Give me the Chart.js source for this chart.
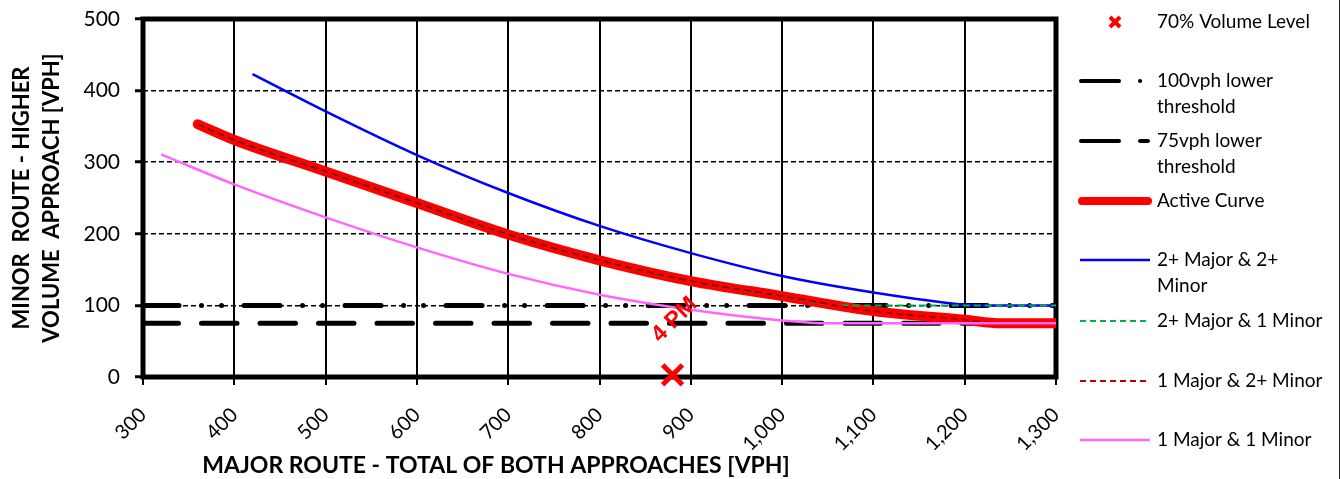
<!DOCTYPE html>
<html>
<head>
<meta charset="utf-8">
<script src="https://cdn.jsdelivr.net/npm/chart.js@4.4.0/dist/chart.umd.min.js"></script>
<style>
  html, body { margin: 0; padding: 0; background: #fff; }
</style>
</head>
<body>
<canvas id="chart" width="1341" height="479"></canvas>
<script>
// axis ticks
const xTicks = [300, 400, 500, 600, 700, 800, 900, 1000, 1100, 1200, 1300];
const yTicks = [0, 100, 200, 300, 400, 500];

// 2+ Major & 2+ Minor
const blueX = [420, 500, 600, 700, 800, 900, 1000, 1100, 1200, 1220, 1300];
const blueY = [423, 371, 310, 257, 211, 173, 141, 118, 101, 100, 100];

// 1 Major & 2+ Minor (also the active curve)
const curveX = [360, 400, 500, 600, 700, 800, 900, 1000, 1100, 1200, 1240, 1300];
const curveY = [353, 331, 287, 243, 199, 163, 134, 113, 92, 80, 75, 75];

// 2+ Major & 1 Minor
const greenX = [360, 400, 500, 600, 700, 800, 900, 1000, 1066, 1300];
const greenY = [353, 331, 287, 243, 199, 163, 134, 113, 100, 100];

// 1 Major & 1 Minor
const pinkX = [320, 400, 500, 600, 700, 800, 900, 1000, 1050, 1300];
const pinkY = [311, 269, 223, 181, 144, 115, 94, 79, 75, 75];

// lower thresholds
const thresholdX = [300, 1300];
const threshold100 = [100, 100];
const threshold75 = [75, 75];

// 70% volume level point
const pointX = [880];
const pointY = [3];
const pointLabel = '4 PM';

function pts(xs, ys) { return xs.map((x, i) => ({ x: x, y: ys[i] })); }

const FONT = 'Lato, "Open Sans", sans-serif';

const extras = {
  id: 'extras',
  beforeDatasetsDraw(chart) {
    const { ctx, chartArea: a } = chart;
    ctx.save();
    ctx.strokeStyle = '#000';
    ctx.lineWidth = 5;
    ctx.strokeRect(a.left, a.top, a.right - a.left, a.bottom - a.top);
    ctx.restore();
  },
  afterDraw(chart) {
    const ctx = chart.ctx;
    ctx.save();

    // "4 PM" label by the marker
    const p = chart.getDatasetMeta(0).data[0];
    ctx.save();
    ctx.translate(p.x + 2, p.y - 55);
    ctx.rotate(-Math.PI / 4);
    ctx.fillStyle = '#ff0000';
    ctx.font = 'bold 23px "Liberation Sans", Arial, sans-serif';
    ctx.textAlign = 'center';
    ctx.textBaseline = 'middle';
    ctx.fillText(pointLabel, 0, 0);
    ctx.restore();

    // x axis title
    ctx.fillStyle = '#000';
    ctx.font = 'bold 23px ' + FONT;
    ctx.textAlign = 'center';
    ctx.textBaseline = 'middle';
    ctx.fillText('MAJOR ROUTE - TOTAL OF BOTH APPROACHES [VPH]', 496, 466);

    // right edge line
    ctx.strokeStyle = '#222';
    ctx.lineWidth = 1;
    ctx.beginPath();
    ctx.moveTo(1339.5, 0);
    ctx.lineTo(1339.5, 479);
    ctx.stroke();

    // legend
    const items = [
      { kind: 'marker', y: 22, text: ['70% Volume Level'] },
      { kind: 't100', y: 81, text: ['100vph lower', 'threshold'] },
      { kind: 't75', y: 141, text: ['75vph lower', 'threshold'] },
      { kind: 'active', y: 201, text: ['Active Curve'] },
      { kind: 'blue', y: 260, text: ['2+ Major & 2+', 'Minor'] },
      { kind: 'green', y: 321, text: ['2+ Major & 1 Minor'] },
      { kind: 'darkred', y: 381, text: ['1 Major & 2+ Minor'] },
      { kind: 'pink', y: 440, text: ['1 Major & 1 Minor'] }
    ];
    items.forEach(it => {
      const y = it.y;
      ctx.save();
      ctx.setLineDash([]);
      ctx.lineCap = 'butt';
      if (it.kind === 'marker') {
        ctx.strokeStyle = '#ff0000';
        ctx.lineWidth = 4;
        ctx.beginPath();
        ctx.moveTo(1110, y - 5); ctx.lineTo(1120, y + 5);
        ctx.moveTo(1120, y - 5); ctx.lineTo(1110, y + 5);
        ctx.stroke();
      } else if (it.kind === 't100' || it.kind === 't75') {
        ctx.strokeStyle = '#000';
        ctx.lineWidth = 4;
        ctx.lineCap = 'round';
        ctx.beginPath();
        ctx.moveTo(1081, y); ctx.lineTo(1119, y);
        if (it.kind === 't100') { ctx.moveTo(1140, y); ctx.lineTo(1140.2, y); }
        else { ctx.moveTo(1140, y); ctx.lineTo(1148, y); }
        ctx.stroke();
      } else if (it.kind === 'active') {
        ctx.strokeStyle = '#ff0000';
        ctx.lineWidth = 8;
        ctx.lineCap = 'round';
        ctx.beginPath(); ctx.moveTo(1082, y); ctx.lineTo(1148, y); ctx.stroke();
      } else {
        const col = { blue: '#0000ff', green: '#00b050', darkred: '#c00000', pink: '#ff66ff' }[it.kind];
        ctx.strokeStyle = col;
        ctx.lineWidth = it.kind === 'blue' || it.kind === 'pink' ? 2.5 : 2;
        if (it.kind === 'green' || it.kind === 'darkred') ctx.setLineDash([6, 4]);
        ctx.beginPath(); ctx.moveTo(1080, y); ctx.lineTo(1150, y); ctx.stroke();
      }
      ctx.restore();
      ctx.fillStyle = '#000';
      ctx.font = '19px ' + FONT;
      ctx.textAlign = 'left';
      ctx.textBaseline = 'middle';
      it.text.forEach((t, i) => ctx.fillText(t, 1157, y + i * 26));
    });
    ctx.restore();
  }
};

new Chart(document.getElementById('chart'), {
  type: 'scatter',
  data: {
    datasets: [
      {
        label: '70% Volume Level',
        data: pts(pointX, pointY),
        showLine: false,
        pointStyle: 'crossRot',
        pointRadius: 14,
        pointBorderWidth: 5,
        borderColor: '#ff0000',
        backgroundColor: '#ff0000',
        clip: false,
        order: 0
      },
      {
        label: '1 Major & 1 Minor',
        data: pts(pinkX, pinkY),
        showLine: true,
        borderColor: '#ff66ff',
        borderWidth: 2.5,
        pointRadius: 0,
        cubicInterpolationMode: 'monotone',
        order: 1
      },
      {
        label: '1 Major & 2+ Minor',
        data: pts(curveX, curveY),
        showLine: true,
        borderColor: '#a00000',
        borderWidth: 2,
        borderDash: [7, 4],
        pointRadius: 0,
        cubicInterpolationMode: 'monotone',
        order: 2
      },
      {
        label: '2+ Major & 1 Minor',
        data: pts(greenX, greenY),
        showLine: true,
        borderColor: '#00b050',
        borderWidth: 2,
        borderDash: [7, 4],
        pointRadius: 0,
        cubicInterpolationMode: 'monotone',
        order: 3
      },
      {
        label: '2+ Major & 2+ Minor',
        data: pts(blueX, blueY),
        showLine: true,
        borderColor: '#0000ff',
        borderWidth: 2.5,
        pointRadius: 0,
        cubicInterpolationMode: 'monotone',
        order: 4
      },
      {
        label: 'Active Curve',
        data: pts(curveX, curveY),
        showLine: true,
        borderColor: '#ff0000',
        borderWidth: 10,
        borderCapStyle: 'round',
        pointRadius: 0,
        cubicInterpolationMode: 'monotone',
        order: 5
      },
      {
        label: '75vph lower threshold',
        data: pts(thresholdX, threshold75),
        showLine: true,
        borderColor: '#000',
        borderWidth: 5,
        borderCapStyle: 'round',
        borderDash: [35.5, 23],
        pointRadius: 0,
        order: 6
      },
      {
        label: '100vph lower threshold',
        data: pts(thresholdX, threshold100),
        showLine: true,
        borderColor: '#000',
        borderWidth: 5,
        borderCapStyle: 'round',
        borderDash: [36, 22.5, 0.01, 20, 0.01, 22.5],
        pointRadius: 0,
        order: 7
      }
    ]
  },
  options: {
    responsive: false,
    animation: false,
    events: [],
    layout: { padding: { top: 17, right: 285, left: 0, bottom: 0 } },
    plugins: {
      legend: { display: false },
      tooltip: { enabled: false }
    },
    scales: {
      x: {
        type: 'linear',
        min: 300,
        max: 1300,
        afterFit(s) { s.height = 102; },
        afterBuildTicks(s) { s.ticks = xTicks.map(v => ({ value: v })); },
        grid: { color: '#000', lineWidth: 2, tickLength: 8, drawOnChartArea: true },
        border: { display: false },
        ticks: {
          autoSkip: false,
          maxRotation: 45,
          minRotation: 45,
          padding: 18,
          color: '#000',
          font: { family: FONT, size: 20 },
          callback: v => v.toLocaleString('en-US')
        },
        title: { display: false }
      },
      y: {
        min: 0,
        max: 500,
        afterFit(s) { s.width = 143; s.paddingTop = 0; s.paddingBottom = 0; },
        afterBuildTicks(s) { s.ticks = yTicks.map(v => ({ value: v })); },
        grid: { color: '#000', lineWidth: 1.5, tickLength: 8, tickBorderDash: [], tickWidth: 3 },
        border: { display: false, dash: [5, 3] },
        ticks: {
          padding: 15,
          color: '#000',
          font: { family: FONT, size: 21 }
        },
        title: {
          display: true,
          text: ['MINOR  ROUTE - HIGHER', 'VOLUME  APPROACH [VPH]'],
          color: '#000',
          font: { family: FONT, size: 22, weight: 'bold', lineHeight: 1.364 },
          padding: { top: 7, bottom: 0 }
        }
      }
    }
  },
  plugins: [extras]
});
</script>
</body>
</html>
